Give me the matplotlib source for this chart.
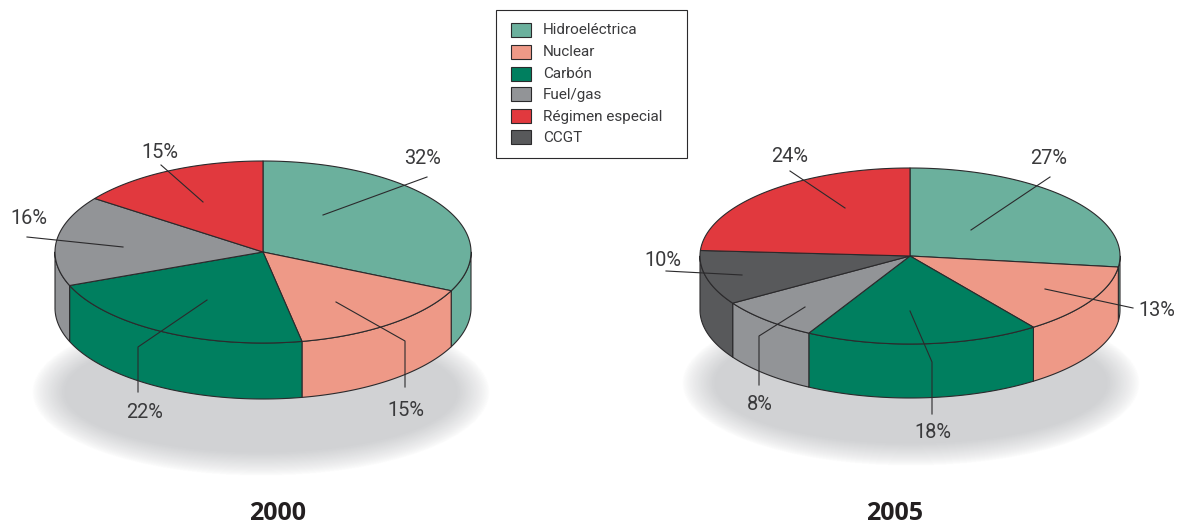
import matplotlib
matplotlib.use('Agg')
import matplotlib.pyplot as plt
import numpy as np
from matplotlib.patches import Ellipse, Polygon, Rectangle

plt.rcParams['font.family'] = ['Roboto', 'DejaVu Sans']

categories_2000 = ['Hidroeléctrica', 'Nuclear', 'Carbón', 'Fuel/gas', 'Régimen especial']
values_2000 = [32, 15, 22, 16, 15]
categories_2005 = ['Hidroeléctrica', 'Nuclear', 'Carbón', 'Fuel/gas', 'CCGT', 'Régimen especial']
values_2005 = [27, 13, 18, 8, 10, 24]
legend_labels = ['Hidroeléctrica', 'Nuclear', 'Carbón', 'Fuel/gas', 'Régimen especial', 'CCGT']

colors = {'Hidroeléctrica': '#6bb09d', 'Nuclear': '#ee9987', 'Carbón': '#007f5f',
          'Fuel/gas': '#929497', 'Régimen especial': '#e1393e', 'CCGT': '#58595b'}
line_col = '#2b2a2c'

fig = plt.figure(figsize=(11.8, 5.26), dpi=100)
ax = fig.add_axes([0, 0, 1, 1])
ax.set_xlim(0, 1180)
ax.set_ylim(526, 0)
ax.axis('off')


def arc(cx, cy, rx, ry, t0, t1, dy=0):
    t = np.radians(np.linspace(t0, t1, 120))
    return np.column_stack([cx + rx * np.sin(t), cy + dy - ry * np.cos(t)])


def shadow(cx, cy, rx, ry, rx_in, ry_in):
    # soft edge made of stacked ellipses, light to dark
    grey = np.array(matplotlib.colors.to_rgb('#d1d2d4'))
    n = 45
    for i in range(n + 1):
        f = i / n
        k = f ** 0.8
        ax.add_patch(Ellipse((cx, cy), 2 * (rx + (rx_in - rx) * f), 2 * (ry + (ry_in - ry) * f),
                             fc=1 - (1 - grey) * k, ec='none', zorder=1))


def pie3d(cx, cy, rx, ry, depth, cats, vals):
    edges = np.concatenate([[0], np.cumsum(vals)]) * 3.6
    # side wall, only the front half of the cylinder shows
    for c, t0, t1 in zip(cats, edges[:-1], edges[1:]):
        a, b = max(t0, 90), min(t1, 270)
        if a >= b:
            continue
        top = arc(cx, cy, rx, ry, a, b)
        bot = arc(cx, cy, rx, ry, b, a, dy=depth)
        ax.add_patch(Polygon(np.vstack([top, bot]), closed=True, fc=colors[c], ec=line_col,
                             lw=0.8, joinstyle='round', zorder=3))
    # top faces
    for c, t0, t1 in zip(cats, edges[:-1], edges[1:]):
        rim = arc(cx, cy, rx, ry, t0, t1)
        ax.add_patch(Polygon(np.vstack([[cx, cy], rim]), closed=True, fc=colors[c], ec=line_col,
                             lw=0.8, joinstyle='round', zorder=4))


shadow(261, 392, 229, 84, 196, 60)
shadow(911, 383, 229, 83, 196, 60)
pie3d(263, 252, 208, 91, 56, categories_2000, values_2000)
pie3d(910, 256, 210, 88, 54, categories_2005, values_2005)

# value labels with their leader lines
pct_text = [f'{v}%' for v in values_2000 + values_2005]
pct_pos = [(423, 159), (406, 411), (145, 412), (29, 219), (160, 152),
           (1049, 159), (1157, 311), (933, 432), (760, 404), (663, 261), (790, 157)]
leaders = [[(323, 215), (427, 177)],
           [(336, 302), (405, 341), (405, 387)],
           [(207, 300), (138, 347), (138, 392)],
           [(123, 247), (27, 237)],
           [(203, 202), (161, 165)],
           [(971, 230), (1050, 177)],
           [(1045, 289), (1133, 308)],
           [(910, 311), (932, 362), (932, 414)],
           [(805, 307), (759, 336), (759, 385)],
           [(742, 275), (666, 271)],
           [(845, 208), (790, 171)]]
for txt, pos, pts in zip(pct_text, pct_pos, leaders):
    ax.text(pos[0], pos[1], txt, ha='center', va='center', fontsize=14.4, color='#3a3a3c', zorder=6)
    ax.plot([p[0] for p in pts], [p[1] for p in pts], color=line_col, lw=0.8, zorder=5)

ax.text(277.5, 513, '2000', ha='center', va='center', fontsize=18, fontweight='bold',
        color='#231f20', family=['Open Sans', 'DejaVu Sans'])
ax.text(895, 513, '2005', ha='center', va='center', fontsize=18, fontweight='bold',
        color='#231f20', family=['Open Sans', 'DejaVu Sans'])

# legend box
ax.add_patch(Rectangle((495.5, 9.5), 191, 148, fc='white', ec=line_col, lw=0.8, zorder=7))
legend_y = [30, 52, 74, 94, 116, 137]
for lab, y in zip(legend_labels, legend_y):
    ax.add_patch(Rectangle((510.5, y - 7), 20.5, 14, fc=colors[lab], ec=line_col, lw=0.8, zorder=8))
    ax.text(543, y + 0.5, lab, ha='left', va='center', fontsize=10.95, color='#3a3a3c', zorder=8)

plt.savefig('out.png', dpi=100)
